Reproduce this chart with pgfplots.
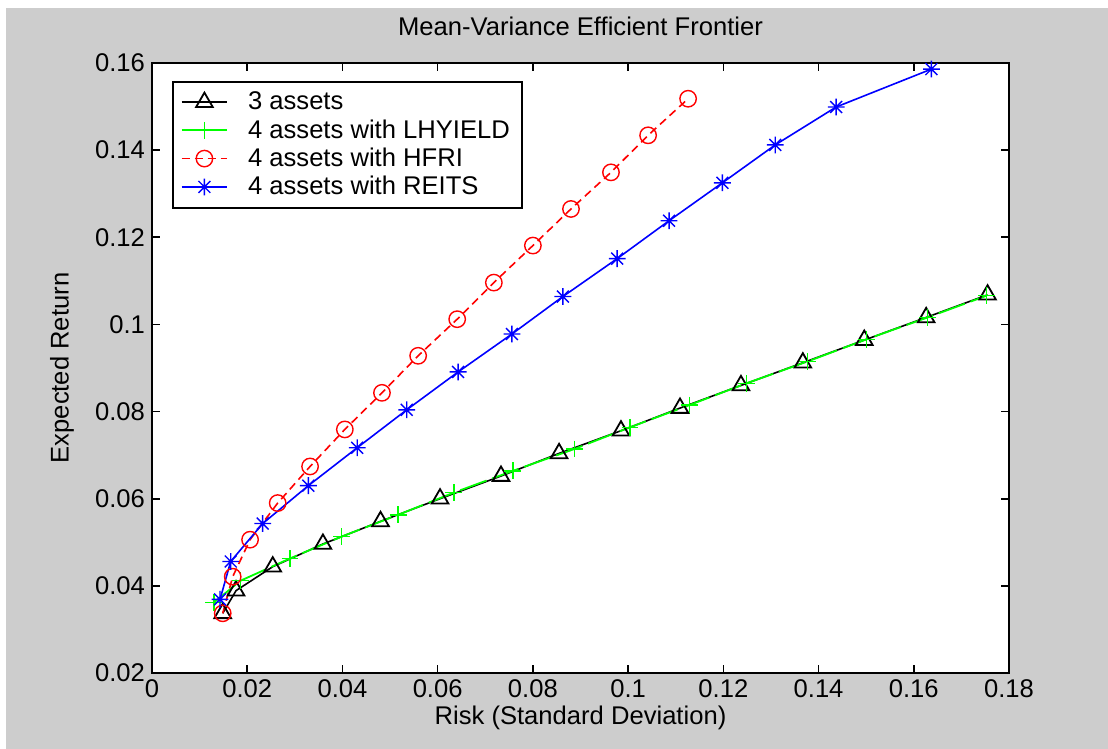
\documentclass[border=0pt]{standalone}
\usepackage{fontspec}
\setmainfont{Liberation Sans}
\usepackage{pgfplots}
\pgfplotsset{compat=1.18}
\definecolor{figgrey}{RGB}{205,205,205}
\definecolor{mgreen}{RGB}{0,255,0}
\definecolor{mred}{RGB}{255,0,0}
\definecolor{mblue}{RGB}{0,0,255}
\pgfdeclareplotmark{mstar}{%
 \pgfpathmoveto{\pgfqpoint{0pt}{\pgfplotmarksize}}%
 \pgfpathlineto{\pgfqpoint{0pt}{-\pgfplotmarksize}}%
 \pgfpathmoveto{\pgfqpoint{\pgfplotmarksize}{0pt}}%
 \pgfpathlineto{\pgfqpoint{-\pgfplotmarksize}{0pt}}%
 \pgfpathmoveto{\pgfqpoint{.7071\pgfplotmarksize}{.7071\pgfplotmarksize}}%
 \pgfpathlineto{\pgfqpoint{-.7071\pgfplotmarksize}{-.7071\pgfplotmarksize}}%
 \pgfpathmoveto{\pgfqpoint{-.7071\pgfplotmarksize}{.7071\pgfplotmarksize}}%
 \pgfpathlineto{\pgfqpoint{.7071\pgfplotmarksize}{-.7071\pgfplotmarksize}}%
 \pgfusepathqstroke}
\begin{document}
\begin{tikzpicture}
\useasboundingbox (0,0) rectangle (554pt,374.5pt);
\fill[white] (0,0) rectangle (554pt,374.5pt);
\fill[figgrey] (3pt,0) rectangle (554pt,370.5pt);
\begin{axis}[
  at={(76pt,38pt)}, anchor=south west,
  scale only axis, width=428.5pt, height=305pt,
  xmin=0, xmax=0.18, ymin=0.02, ymax=0.16,
  axis background/.style={fill=white},
  xtick={0,0.02,0.04,0.06,0.08,0.1,0.12,0.14,0.16,0.18},
  xticklabels={0,0.02,0.04,0.06,0.08,0.1,0.12,0.14,0.16,0.18},
  ytick={0.02,0.04,0.06,0.08,0.1,0.12,0.14,0.16},
  yticklabels={0.02,0.04,0.06,0.08,0.1,0.12,0.14,0.16},
  tick align=inside, major tick length=4pt,
  axis line style={black, line width=0.9pt},
  every tick/.style={black, line width=0.8pt},
  tick label style={font=\fontsize{12.8}{15}\selectfont},
  title={Mean-Variance Efficient Frontier},
  title style={at={(0.5,1)}, anchor=center, yshift=12.5pt, inner sep=0pt, font=\fontsize{12.8}{15}\selectfont},
  xlabel={Risk (Standard Deviation)},
  xlabel style={at={(axis description cs:0.5,0)}, anchor=center, yshift=-22.5pt, inner sep=0pt, font=\fontsize{12.8}{15}\selectfont},
  ylabel={Expected Return},
  ylabel style={at={(axis description cs:-0.105,0.5)}, anchor=center, inner sep=0pt, font=\fontsize{12.8}{15}\selectfont},
  legend style={at={(0.0233,0.9705)}, anchor=north west, draw=black, line width=0.8pt, fill=white,
    font=\fontsize{12.8}{15}\selectfont, row sep=-0.6pt, inner xsep=4pt, inner ysep=3pt,
    /tikz/every odd column/.append style={column sep=8pt}},
  legend cell align=left,
  legend image code/.code={\draw[mark repeat=2, mark phase=2] plot coordinates {(0cm,0cm) (0.4cm,0cm) (0.8cm,0cm)};},
]
\addplot[black, line width=0.8pt, mark=triangle, mark size=4.8pt, mark options={solid, line width=0.9pt}] coordinates {
(0.01485,0.0337) (0.01765,0.0389) (0.02536,0.0444) (0.0359,0.0496) (0.0480,0.0548) (0.0605,0.0600) (0.0733,0.0652) (0.0855,0.0704) (0.0985,0.0756) (0.1109,0.0808) (0.1237,0.0860) (0.1367,0.0912) (0.1496,0.0964) (0.1626,0.1016) (0.1755,0.1068)};
\addlegendentry{3 assets}
\addplot[mgreen, line width=0.9pt, dash pattern=on 14pt off 3pt, mark=+, mark size=4.2pt, mark options={solid, line width=0.7pt}, legend image post style={solid}] coordinates {
(0.0130,0.0362) (0.01863,0.0412) (0.0290,0.0463) (0.0398,0.0513) (0.0517,0.0563) (0.0634,0.0614) (0.0758,0.0664) (0.0887,0.0714) (0.1004,0.0764) (0.1129,0.0815) (0.1249,0.0865) (0.1377,0.0915) (0.1501,0.0966) (0.1629,0.1016) (0.1753,0.1066)};
\addlegendentry{4 assets with LHYIELD\hspace{16pt}}
\addplot[mred, line width=0.8pt, dash pattern=on 4pt off 2.5pt, mark=o, mark size=4.1pt, mark options={solid, line width=0.7pt}] coordinates {
(0.01485,0.0337) (0.01695,0.0421) (0.0206,0.0506) (0.0264,0.0590) (0.0332,0.0674) (0.0405,0.0759) (0.0483,0.0843) (0.0559,0.0928) (0.0641,0.1012) (0.0718,0.1096) (0.0800,0.1181) (0.0880,0.1265) (0.0964,0.1349) (0.1042,0.1434) (0.1126,0.1518)};
\addlegendentry{4 assets with HFRI}
\addplot[mblue, line width=0.8pt, mark=mstar, mark size=4.2pt, mark options={solid, line width=0.7pt}] coordinates {
(0.01429,0.0369) (0.01653,0.0456) (0.02325,0.0543) (0.03284,0.0630) (0.0431,0.0717) (0.0535,0.0804) (0.0643,0.0891) (0.0756,0.0978) (0.0863,0.1064) (0.0977,0.1151) (0.1086,0.1238) (0.1198,0.1325) (0.1309,0.1412) (0.1437,0.1499) (0.1637,0.1586)};
\addlegendentry{4 assets with REITS}
\end{axis}
\end{tikzpicture}
\end{document}
